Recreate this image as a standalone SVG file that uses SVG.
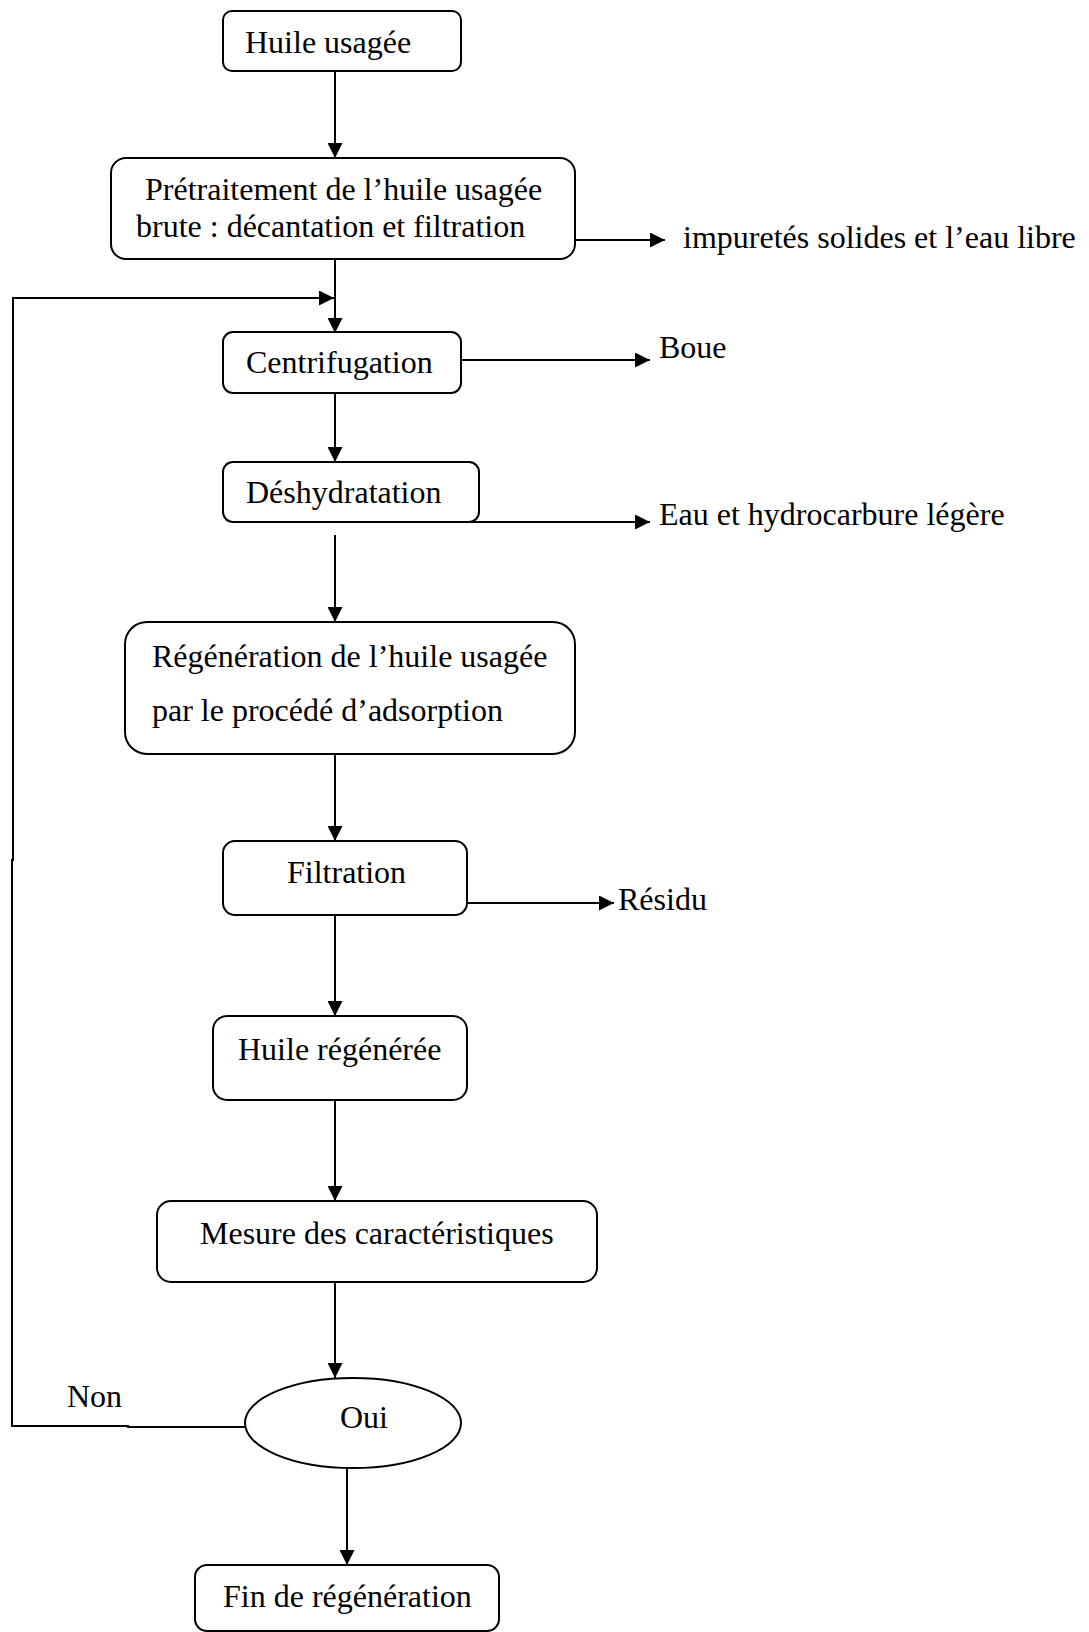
<svg xmlns="http://www.w3.org/2000/svg" width="1089" height="1632" viewBox="0 0 1089 1632">
<style>
.box{fill:#fff;stroke:#000;stroke-width:2}
.c{fill:none;stroke:#000;stroke-width:2}
text{font-family:"Liberation Serif","Times New Roman",serif;font-size:32px;fill:#000}
</style>
<defs>
<marker id="ah" markerUnits="userSpaceOnUse" markerWidth="15" markerHeight="15" refX="15" refY="7.5" orient="auto">
<path d="M0,0 L15,7.5 L0,15 z" fill="#000"/>
</marker>
</defs>
<rect width="1089" height="1632" fill="#fff"/>
<g id="connectors">
<path class="c" d="M335,71 V158" marker-end="url(#ah)"/>
<path class="c" d="M575,240 H665" marker-end="url(#ah)"/>
<path class="c" d="M335,259 V333" marker-end="url(#ah)"/>
<path class="c" d="M245,1427 H128 V1426 H12 V860 H13 V298 H334" marker-end="url(#ah)"/>
<path class="c" d="M461,360 H650" marker-end="url(#ah)"/>
<path class="c" d="M335,393 V462" marker-end="url(#ah)"/>
<path class="c" d="M462,522 H650" marker-end="url(#ah)"/>
<path class="c" d="M335,535 V622" marker-end="url(#ah)"/>
<path class="c" d="M335,754 V841" marker-end="url(#ah)"/>
<path class="c" d="M467,903 H614" marker-end="url(#ah)"/>
<path class="c" d="M335,915 V1016" marker-end="url(#ah)"/>
<path class="c" d="M335,1100 V1201" marker-end="url(#ah)"/>
<path class="c" d="M335,1282 V1378" marker-end="url(#ah)"/>
<path class="c" d="M347,1468 V1565" marker-end="url(#ah)"/>
</g>
<g id="n-huile-usagee">
<rect class="box" x="223" y="11" width="238" height="60" rx="9"/>
<text x="245" y="53">Huile usagée</text>
</g>
<g id="n-pretraitement">
<rect class="box" x="111" y="158" width="464" height="101" rx="15"/>
<text x="145" y="200">Prétraitement de l’huile usagée</text>
<text x="136" y="237">brute : décantation et filtration</text>
</g>
<g id="n-impuretes">
<text x="683" y="248">impuretés solides et l’eau libre</text>
</g>
<g id="n-centrifugation">
<rect class="box" x="223" y="332" width="238" height="61" rx="10"/>
<text x="246" y="373">Centrifugation</text>
</g>
<g id="n-boue">
<text x="659" y="358">Boue</text>
</g>
<g id="n-deshydratation">
<rect class="box" x="223" y="462" width="256" height="60" rx="10"/>
<text x="246" y="503">Déshydratation</text>
</g>
<g id="n-eau">
<text x="659" y="525">Eau et hydrocarbure légère</text>
</g>
<g id="n-regeneration">
<rect class="box" x="125" y="622" width="450" height="132" rx="22"/>
<text x="152" y="667">Régénération de l’huile usagée</text>
<text x="152" y="721">par le procédé d’adsorption</text>
</g>
<g id="n-filtration">
<rect class="box" x="223" y="841" width="244" height="74" rx="12"/>
<text x="287" y="883">Filtration</text>
</g>
<g id="n-residu">
<text x="618" y="910">Résidu</text>
</g>
<g id="n-huile-regeneree">
<rect class="box" x="213" y="1016" width="254" height="84" rx="14"/>
<text x="238" y="1060">Huile régénérée</text>
</g>
<g id="n-mesure">
<rect class="box" x="157" y="1201" width="440" height="81" rx="14"/>
<text x="200" y="1244">Mesure des caractéristiques</text>
</g>
<g id="n-decision">
<ellipse class="box" cx="353" cy="1423" rx="108" ry="45"/>
<text x="340" y="1428">Oui</text>
</g>
<g id="n-non">
<text x="67" y="1407">Non</text>
</g>
<g id="n-fin">
<rect class="box" x="195" y="1565" width="304" height="66" rx="12"/>
<text x="223" y="1607">Fin de régénération</text>
</g>
</svg>
